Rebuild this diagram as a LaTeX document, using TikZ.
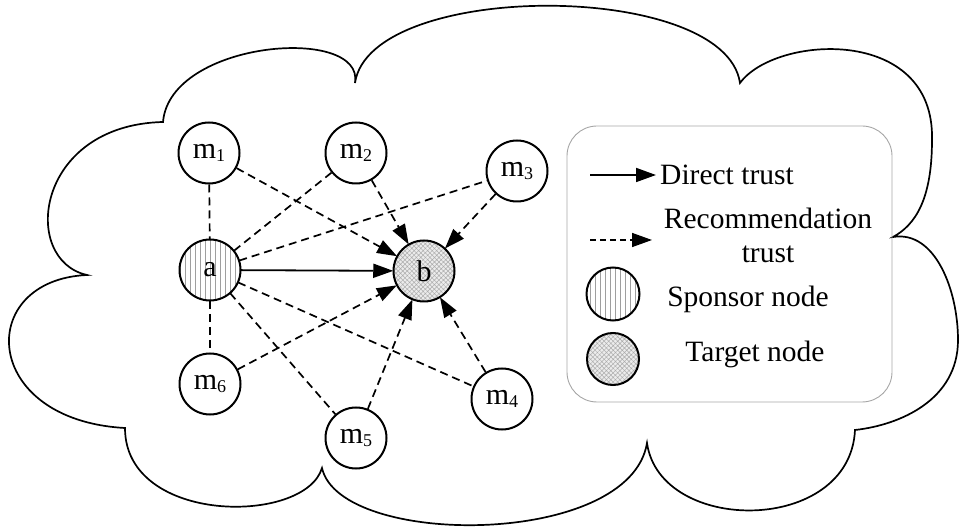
\documentclass[tikz,border=0pt]{standalone}
\usepackage{fontspec}
\setmainfont{Liberation Serif}
\usetikzlibrary{arrows.meta,patterns.meta}
\newcommand\mlabel[1]{m\raisebox{-3pt}{\fontsize{18}{18}\selectfont #1}}
\begin{document}
\begin{tikzpicture}[x=1pt,y=-1pt,
  every node/.style={font=\fontsize{29.5}{32}\selectfont},
  mnode/.style={circle,draw,line width=2pt,minimum size=61pt,inner sep=0pt,font=\fontsize{30}{32}\selectfont},
  sponsor/.style={mnode,pattern={Lines[angle=90,distance=5pt,line width=0.6pt]},pattern color=gray!75},
  target/.style={mnode,preaction={fill=gray!15},pattern={Hatch[angle=45,distance=3.2pt,line width=0.5pt]},pattern color=gray!65},
  dline/.style={line width=1.7pt,dash pattern=on 8pt off 5pt},
  sline/.style={line width=1.8pt},
  arrowtip/.style={-{Triangle[length=20pt,width=14pt]}},
]
\useasboundingbox (0,0) rectangle (962,529);

% cloud
\draw[line width=1.7pt] (163,122) .. controls (170,40) and (365,25) .. (355,83)
 .. controls (370,-20) and (725,-20) .. (740,83)
 .. controls (775,35) and (935,25) .. (932,140)
 .. controls (932,200) and (915,225) .. (893,237)
 .. controls (935,230) and (958,290) .. (958,340)
 .. controls (958,400) and (900,425) .. (855,430)
 .. controls (850,535) and (660,535) .. (647,443)
 .. controls (630,548) and (340,548) .. (322,468)
 .. controls (305,525) and (125,525) .. (125,428)
 .. controls (-20,420) and (-25,280) .. (87,275)
 .. controls (20,260) and (35,125) .. (163,122) -- cycle;

% nodes
\node[mnode] (m1) at (209,153) {\mlabel{1}};
\node[mnode] (m2) at (356,153) {\mlabel{2}};
\node[mnode] (m3) at (517,171) {\mlabel{3}};
\node[sponsor] (a) at (210,270) {a};
\node[target] (b) at (424,271) {b};
\node[mnode] (m6) at (210,384) {\mlabel{6}};
\node[mnode] (m5) at (356,438) {\mlabel{5}};
\node[mnode] (m4) at (502,399) {\mlabel{4}};

% edges
\draw[sline,arrowtip] (a) -- (b);
\draw[dline] (m1) -- (a);
\draw[dline] (a) -- (m6);
\draw[dline] (a) -- (m2);
\draw[dline] (a) -- (m3);
\draw[dline] (a) -- (m5);
\draw[dline] (a) -- (m4);
\draw[dline,arrowtip] (m1) -- (b);
\draw[dline,arrowtip] (m2) -- (b);
\draw[dline,arrowtip] (m3) -- (b);
\draw[dline,arrowtip] (m6) -- (b);
\draw[dline,arrowtip] (m5) -- (b);
\draw[dline,arrowtip] (m4) -- (b);

% legend
\node[draw=gray!70,line width=0.9pt,rounded corners=30pt,minimum width=325pt,minimum height=276pt,inner sep=0pt] (legend) at (729.5,264) {};
\coordinate (l1s) at (590,175);
\coordinate (l1e) at (656,175);
\draw[sline,arrowtip] (l1s) -- (l1e);
\node[anchor=base west,inner sep=0pt] (t1) at (660,185) {Direct trust};
\coordinate (l2s) at (590,240);
\coordinate (l2e) at (652,240);
\draw[line width=1.5pt,dash pattern=on 6pt off 4pt,arrowtip] (l2s) -- (l2e);
\node[anchor=base,inner sep=0pt] (t2) at (768,229) {Recommendation};
\node[anchor=base,inner sep=0pt] (t3) at (768,263) {trust};
\node[sponsor,minimum size=53pt] (ls) at (613,294) {};
\node[anchor=base,inner sep=0pt] (t4) at (748,307) {Sponsor node};
\node[target,minimum size=52pt] (lt) at (613,359) {};
\node[anchor=base,inner sep=0pt] (t5) at (755,362) {Target node};
\end{tikzpicture}
\end{document}
